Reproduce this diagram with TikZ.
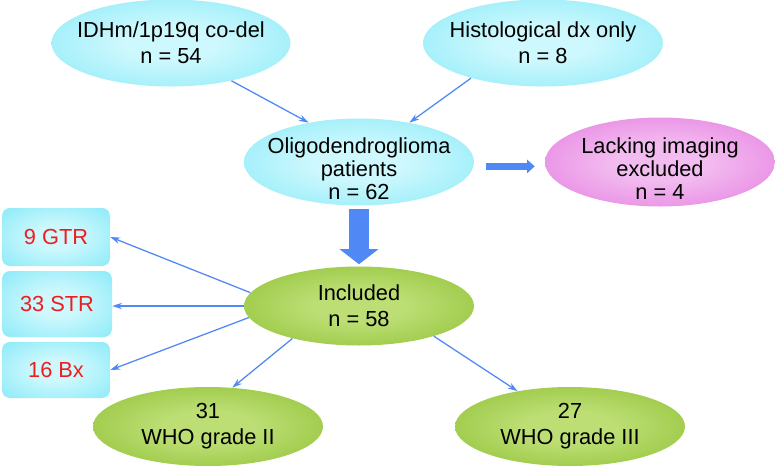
\documentclass[tikz,border=0pt]{standalone}
\usepackage{fontspec}
\setmainfont{Liberation Sans}
\usetikzlibrary{arrows.meta,shapes.geometric}
\definecolor{cyanin}{RGB}{205,248,253}
\definecolor{cyanout}{RGB}{108,228,246}
\definecolor{greenin}{RGB}{188,222,116}
\definecolor{greenout}{RGB}{124,180,24}
\definecolor{pinkin}{RGB}{243,188,240}
\definecolor{pinkout}{RGB}{222,96,216}
\definecolor{flowblue}{RGB}{80,136,245}
\definecolor{cutred}{RGB}{238,30,30}
\pgfdeclareradialshading{cyanglow}{\pgfpointorigin}{color(0bp)=(cyanin); color(10bp)=(cyanin); color(48bp)=(cyanout); color(50bp)=(cyanout)}
\pgfdeclareradialshading{greenglow}{\pgfpointorigin}{color(0bp)=(greenin); color(10bp)=(greenin); color(48bp)=(greenout); color(50bp)=(greenout)}
\pgfdeclareradialshading{pinkglow}{\pgfpointorigin}{color(0bp)=(pinkin); color(10bp)=(pinkin); color(48bp)=(pinkout); color(50bp)=(pinkout)}
\newcommand{\topgap}{\rule{0pt}{21pt}}
\tikzset{
  flow/.style={->, flowblue, line width=0.9pt},
  blob/.style={ellipse, inner xsep=-1.2cm, inner ysep=-0.6cm, align=center,
    font=\fontsize{15.5}{18.5}\selectfont},
  tall/.style={font=\fontsize{15.5}{16.5}\selectfont},
}

\begin{document}
\begin{tikzpicture}[
  cyanblob/.style={blob, shade, shading=cyanglow},
  greenblob/.style={blob, shade, shading=greenglow},
  pinkblob/.style={blob, shade, shading=pinkglow},
  cutbox/.style={rectangle, rounded corners=0.2cm, shade, shading=cyanglow,
    text=cutred, font=\fontsize{15.5}{18.5}\selectfont},
  >={Stealth[length=7pt,width=4.5pt]}
]
  \useasboundingbox (0,0) rectangle (19.375,11.65);

  % Sources
  \node[cyanblob, minimum width=5.975cm, minimum height=2.175cm] (idh) at (4.275,10.575) {IDHm/1p19q co-del\\n = 54};
  \node[cyanblob, minimum width=6cm, minimum height=2.175cm] (hist) at (13.575,10.575) {Histological dx only\\n = 8};

  % Patients and exclusion
  \node[cyanblob, tall, minimum width=5.75cm, minimum height=2.175cm] (oligo) at (8.975,7.6) {\topgap Oligodendroglioma\\patients\\n = 62};
  \node[pinkblob, tall, minimum width=5.75cm, minimum height=2.225cm] (lack) at (16.5,7.6) {\topgap Lacking imaging\\excluded\\n = 4};

  % Included
  \node[greenblob, minimum width=5.75cm, minimum height=1.975cm] (incl) at (8.975,4.0) {Included\\n = 58};

  % Resection
  \node[cutbox, minimum width=2.7cm, minimum height=1.45cm] (gtr) at (1.4,5.725) {9 GTR};
  \node[cutbox, minimum width=2.75cm, minimum height=1.65cm] (str) at (1.425,4.05) {33 STR};
  \node[cutbox, minimum width=2.7cm, minimum height=1.4cm] (bx) at (1.4,2.4) {16 Bx};

  % Grades
  \node[greenblob, minimum width=5.75cm, minimum height=1.975cm] (who2) at (5.2,0.9875) {31\\WHO grade II};
  \node[greenblob, minimum width=5.75cm, minimum height=1.975cm] (who3) at (14.25,0.9875) {27\\WHO grade III};

  % Thin arrows
  \draw[flow] (idh.328) -- (oligo.142);
  \draw[flow] (hist.206) -- (oligo.38);
  \draw[flow] (incl.173) -- (gtr.east);
  \draw[flow] (incl.west) -- (incl.west -| str.east);
  \draw[flow] (incl.186) -- (bx.east);
  \draw[flow] (incl.206) -- (who2.58);
  \draw[flow] (incl.338) -- (who3.146);

  % Thick arrows
  \draw[flowblue, line width=0.5cm, -{Triangle[length=0.375cm,width=0.95cm]},
    shorten <=0.075cm, shorten >=0.05cm] (oligo.south) -- (incl.north);
  \draw[flowblue, line width=0.175cm, -{Triangle[length=0.19cm,width=0.33cm]},
    shorten <=0.3cm, shorten >=0.25cm] ([yshift=-0.11cm]oligo.east) -- ([yshift=-0.11cm]lack.west);
\end{tikzpicture}
\end{document}
